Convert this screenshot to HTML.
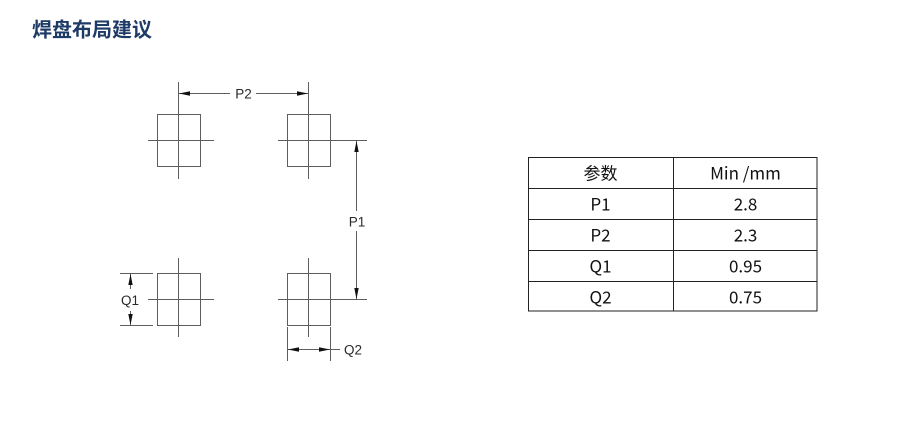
<!DOCTYPE html>
<html>
<head>
<meta charset="utf-8">
<style>
  html, body { margin:0; padding:0; background:#ffffff; }
  body { width:924px; height:436px; overflow:hidden; position:relative; }
  svg { position:absolute; left:0; top:0; }
</style>
</head>
<body>
<svg width="924" height="436" viewBox="0 0 924 436" xmlns="http://www.w3.org/2000/svg">
  <!-- Title -->
  <text x="32" y="36.5" font-family="'Liberation Sans','Noto Sans CJK SC',sans-serif" font-size="20" font-weight="bold" fill="#1e3a66">焊盘布局建议</text>

  <!-- Pads -->
  <g fill="none" stroke="#5e5e5e" stroke-width="1">
    <!-- TL -->
    <rect x="157.5" y="114.5" width="43" height="52"/>
    <line x1="178.5" y1="82" x2="178.5" y2="179"/>
    <line x1="148" y1="140.5" x2="214" y2="140.5"/>
    <!-- TR -->
    <rect x="287.5" y="114.5" width="43" height="52"/>
    <line x1="308.5" y1="82" x2="308.5" y2="179"/>
    <line x1="278" y1="140.5" x2="367" y2="140.5"/>
    <!-- BL -->
    <rect x="157.5" y="273.5" width="43" height="52"/>
    <line x1="178.5" y1="258" x2="178.5" y2="337"/>
    <line x1="148" y1="299.5" x2="214" y2="299.5"/>
    <!-- BR -->
    <rect x="287.5" y="273.5" width="43" height="52"/>
    <line x1="308.5" y1="258" x2="308.5" y2="337"/>
    <line x1="278" y1="299.5" x2="367" y2="299.5"/>

    <!-- P2 dimension -->
    <line x1="178.5" y1="93.5" x2="230" y2="93.5"/>
    <line x1="256" y1="93.5" x2="308.5" y2="93.5"/>
    <!-- P1 dimension -->
    <line x1="356.5" y1="140.5" x2="356.5" y2="211"/>
    <line x1="356.5" y1="231" x2="356.5" y2="299.5"/>
    <!-- Q1 dimension -->
    <line x1="120" y1="273.5" x2="153" y2="273.5"/>
    <line x1="120" y1="325.5" x2="153" y2="325.5"/>
    <line x1="130.5" y1="273.5" x2="130.5" y2="289"/>
    <line x1="130.5" y1="311" x2="130.5" y2="325.5"/>
    <!-- Q2 dimension -->
    <line x1="287.5" y1="327" x2="287.5" y2="361"/>
    <line x1="330.5" y1="327" x2="330.5" y2="361"/>
    <line x1="287.5" y1="349.5" x2="340" y2="349.5"/>
  </g>

  <!-- Arrowheads -->
  <g fill="#111">
    <!-- P2 -->
    <polygon points="179,93.5 190,91.3 190,95.7"/>
    <polygon points="308,93.5 297,91.3 297,95.7"/>
    <!-- P1 -->
    <polygon points="356.5,141 354.3,152 358.7,152"/>
    <polygon points="356.5,299 354.3,288 358.7,288"/>
    <!-- Q1 -->
    <polygon points="130.5,274 128.3,285 132.7,285"/>
    <polygon points="130.5,325 128.3,314 132.7,314"/>
    <!-- Q2 -->
    <polygon points="288,349.5 299,347.3 299,351.7"/>
    <polygon points="330,349.5 319,347.3 319,351.7"/>
  </g>

  <!-- Dimension labels -->
  <g font-family="'Liberation Sans',sans-serif" font-size="13.5" fill="#2a2a2a">
    <text x="243.5" y="98.5" text-anchor="middle">P2</text>
    <text x="357" y="226.5" text-anchor="middle">P1</text>
    <text x="121" y="305">Q1</text>
    <text x="344" y="354.5">Q2</text>
  </g>

  <!-- Table -->
  <g fill="none" stroke="#222" stroke-width="1">
    <rect x="528.5" y="157.5" width="288.5" height="153.5"/>
    <line x1="673.5" y1="157.5" x2="673.5" y2="311"/>
    <line x1="528.5" y1="188.5" x2="817" y2="188.5"/>
    <line x1="528.5" y1="219.5" x2="817" y2="219.5"/>
    <line x1="528.5" y1="250.5" x2="817" y2="250.5"/>
    <line x1="528.5" y1="281.5" x2="817" y2="281.5"/>
  </g>
  <g font-family="'Noto Sans CJK SC','Liberation Sans',sans-serif" font-size="17" fill="#111" text-anchor="middle">
    <text x="600.5" y="179.5">参数</text>
    <text x="745.5" y="179.5">Min /mm</text>
    <text x="600.5" y="210.5">P1</text>
    <text x="745.5" y="210.5">2.8</text>
    <text x="600.5" y="241.5">P2</text>
    <text x="745.5" y="241.5">2.3</text>
    <text x="600.5" y="272.5">Q1</text>
    <text x="745.5" y="272.5">0.95</text>
    <text x="600.5" y="303.5">Q2</text>
    <text x="745.5" y="303.5">0.75</text>
  </g>
</svg>
</body>
</html>
